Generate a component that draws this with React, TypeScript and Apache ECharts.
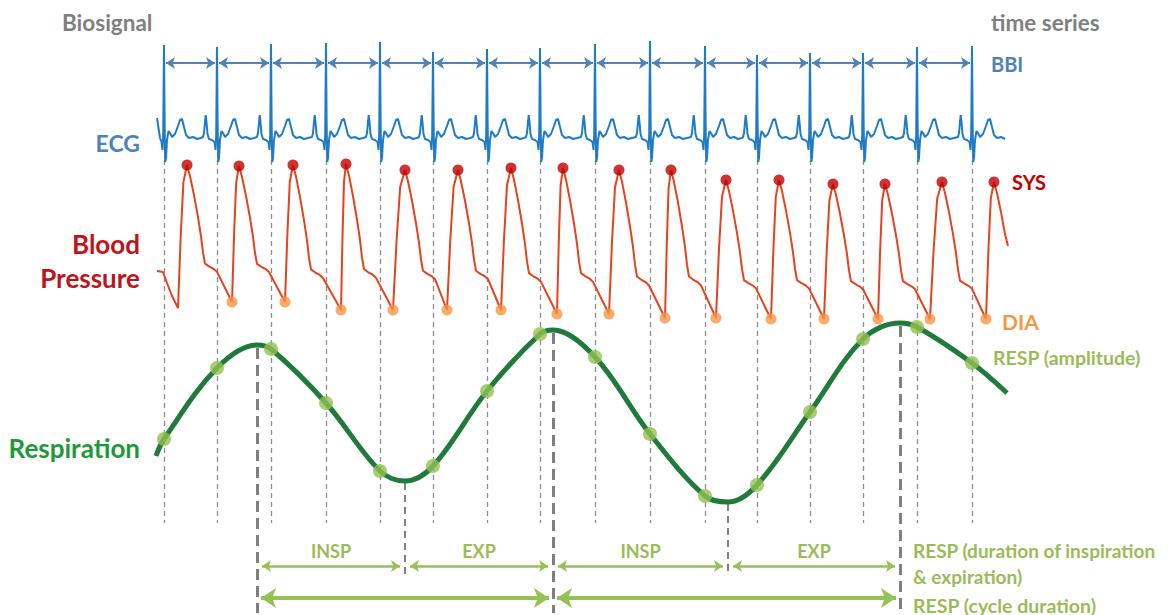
import React, { useEffect, useRef } from 'react';
import * as echarts from 'echarts';

// ---- ECG ----
// time of each R-peak (horizontal chart units)
const rPeakTimes = [164, 217, 271, 326, 380, 433, 487, 540, 595, 650, 705, 757, 810, 863, 917, 972];
// level of each R-peak (vertical chart units, axis inverted)
const rPeakLevels = [45, 47, 44, 43, 42, 52, 49, 48, 44, 41, 46, 55, 53, 53, 47, 46];
// one beat around its R-peak: [offset from R, level]; null = the R-peak itself
const ecgBeatShape: [number, number | null][] = [
  [-14, 137], [-13, 133], [-12, 122], [-11.3, 115], [-10.5, 122], [-9.5, 134], [-8, 139],
  [-5, 140], [-2.5, 142], [-1.5, 150], [-0.8, 135], [0, null], [0.6, 120], [1.2, 162],
  [2, 158], [3, 140], [4.5, 131], [6, 133], [8, 137], [11, 134], [14, 126], [16, 120],
  [18, 119], [20, 127], [22, 135], [25, 138], [29, 137], [33, 139], [37, 138],
];
const ecgLead = [[157, 118], [158.5, 128], [160, 138], [161.5, 142]];
const ecgEnd = 1008;

// ---- Blood pressure ----
const sysTimes = [187, 239, 293, 346, 405, 458, 511, 563, 619, 671, 726, 779, 833, 885, 942, 994];
const sysLevels = [165, 166, 165, 164, 170, 170, 168, 168, 170, 170, 180, 180, 184, 184, 182, 182];
const diaTimes = [232, 285, 341, 393, 447, 501, 557, 609, 665, 716, 771, 824, 878, 930, 986];
const diaLevels = [302, 302, 310, 310, 310, 310, 314, 314, 318, 318, 319, 319, 319, 319, 319];
// trace before the first marked beat (first foot is unmarked)
const bpLead = [[157, 271], [163, 272], [167, 283], [172, 296], [178, 308]];
const bpTail = [1008, 246];
// upstroke: [fraction of foot->SYS time, fraction of foot->SYS rise]
const bpRiseShape = [[0.3, 0.5], [0.6, 0.88]];
// decay: [offset after SYS, fraction of SYS->next foot drop]
const bpFallShape = [[3, 0.08], [7, 0.22], [11, 0.38], [14, 0.52], [16, 0.64], [18, 0.72], [22, 0.74], [27, 0.76], [30, 0.78]];
const bpTailFoot = 319;

// ---- Respiration ----
const respAtBeats = [439, 368, 349, 403, 471, 466, 391, 334, 357, 434, 496, 485, 412, 339, 327, 363];
const respPeakTimes = [257, 553, 900];
const respPeakLevels = [345, 330, 323];
const respTroughTimes = [405, 728];
const respTroughLevels = [481, 502];
const respEnds = [[156, 456], [1007, 393]];

function buildEcg() {
  const pts: number[][] = [...ecgLead];
  rPeakTimes.forEach((t, i) => {
    ecgBeatShape.forEach(([dx, lv]) => {
      const x = t + dx;
      if (x < 162 || x > ecgEnd) return;
      pts.push([x, lv === null ? rPeakLevels[i] : lv]);
    });
  });
  return pts;
}

function buildBp() {
  const pts: number[][] = [...bpLead];
  sysTimes.forEach((sx, i) => {
    const sy = sysLevels[i];
    const foot = i === 0 ? bpLead[bpLead.length - 1] : [diaTimes[i - 1], diaLevels[i - 1]];
    if (i > 0) pts.push(foot);
    bpRiseShape.forEach(([ft, fl]) => {
      pts.push([foot[0] + ft * (sx - foot[0]), foot[1] + fl * (sy - foot[1])]);
    });
    pts.push([sx, sy]);
    const nextFoot = i < diaTimes.length ? diaLevels[i] : bpTailFoot;
    const limit = i < diaTimes.length ? diaTimes[i] : bpTail[0];
    bpFallShape.forEach(([dx, f]) => {
      if (sx + dx >= limit - 1) return;
      pts.push([sx + dx, sy + f * (nextFoot - sy)]);
    });
  });
  pts.push(bpTail);
  return pts;
}

function buildResp() {
  const pts: number[][] = [
    ...respEnds,
    ...rPeakTimes.map((t, i) => [t, respAtBeats[i]]),
    ...respPeakTimes.map((t, i) => [t, respPeakLevels[i]]),
    ...respTroughTimes.map((t, i) => [t, respTroughLevels[i]]),
  ];
  pts.sort((a, b) => a[0] - b[0]);
  return pts;
}

const FONT = 'Lato, "Open Sans", sans-serif';

export default function App() {
  const ref = useRef<HTMLDivElement>(null);
  useEffect(() => {
    document.body.style.margin = '0';
    const chart = echarts.init(ref.current!, undefined, { renderer: 'svg' });

    // thin dashed beat lines
    const beatLines = rPeakTimes.map((t) => ({ coords: [[t, 160], [t, 523]] }));
    // heavy dashed respiration turning-point lines
    const peakLines = respPeakTimes.map((t, i) => ({ coords: [[t, respPeakLevels[i] + 3], [t, 613]] }));
    const troughLines = respTroughTimes.map((t, i) => ({ coords: [[t, respTroughLevels[i] + 2], [t, 574]] }));

    const bbiArrows = rPeakTimes.slice(0, -1).map((t, i) => ({ coords: [[t + 2, 63], [rPeakTimes[i + 1] - 2, 63]] }));

    // phases: turning points in time order
    const turns = [
      ...respPeakTimes.map((t) => ({ t, k: 'peak' })),
      ...respTroughTimes.map((t) => ({ t, k: 'trough' })),
    ].sort((a, b) => a.t - b.t);
    const phaseArrows = turns.slice(0, -1).map((p, i) => ({
      name: p.k === 'peak' ? 'INSP' : 'EXP',
      coords: [[p.t + 5, 566], [turns[i + 1].t - 5, 566]],
    }));
    const cycleArrows = respPeakTimes.slice(0, -1).map((t, i) => ({
      coords: [[t + 4, 598], [respPeakTimes[i + 1] - 4, 598]],
    }));

    const txt = (text: string, x: number, y: number, fill: string, size: number, align = 'left') => ({
      type: 'text',
      x,
      y,
      silent: true,
      style: {
        text,
        fill,
        font: `bold ${size}px ${FONT}`,
        align,
        textAlign: align,
        verticalAlign: 'middle',
        textVerticalAlign: 'middle',
      },
    });

    chart.setOption({
      animation: false,
      grid: { left: 0, right: 0, top: 0, bottom: 0 },
      xAxis: { type: 'value', min: 0, max: 1172, show: false },
      yAxis: { type: 'value', min: 0, max: 615, inverse: true, show: false },
      series: [
        {
          type: 'lines', coordinateSystem: 'cartesian2d', z: 1, silent: true,
          lineStyle: { color: '#8c8c8c', width: 1.3, type: [5, 4], opacity: 1 },
          data: beatLines,
        },
        {
          type: 'lines', coordinateSystem: 'cartesian2d', z: 1, silent: true,
          lineStyle: { color: '#7f7f7f', width: 3, type: [11, 6], opacity: 1 },
          data: peakLines,
        },
        {
          type: 'lines', coordinateSystem: 'cartesian2d', z: 1, silent: true,
          lineStyle: { color: '#7f7f7f', width: 2, type: [7, 5], opacity: 1 },
          data: troughLines,
        },
        {
          type: 'line', data: buildEcg(), symbol: 'none', z: 3,
          lineStyle: { color: '#1f7bc6', width: 2 },
        },
        {
          type: 'lines', coordinateSystem: 'cartesian2d', z: 4, silent: true,
          symbol: ['arrow', 'arrow'], symbolSize: 9,
          lineStyle: { color: '#4f81bd', width: 2, opacity: 1 },
          data: bbiArrows,
        },
        {
          type: 'line', data: buildBp(), symbol: 'none', z: 3,
          lineStyle: { color: '#e5421e', width: 2 },
        },
        {
          type: 'scatter', z: 5, symbolSize: 11,
          itemStyle: { color: '#c00000' },
          data: sysTimes.map((t, i) => [t, sysLevels[i]]),
        },
        {
          type: 'scatter', z: 5, symbolSize: 11,
          itemStyle: { color: '#f79646' },
          data: diaTimes.map((t, i) => [t, diaLevels[i]]),
        },
        {
          type: 'line', data: buildResp(), symbol: 'none', smooth: 0.35, z: 3,
          lineStyle: { color: '#1f7a3b', width: 5 },
        },
        {
          type: 'scatter', z: 6, symbolSize: 14,
          itemStyle: { color: '#92c050' },
          data: rPeakTimes.map((t, i) => [t, respAtBeats[i]]),
        },
        {
          type: 'lines', coordinateSystem: 'cartesian2d', z: 4, silent: true,
          symbol: ['arrow', 'arrow'], symbolSize: 9,
          lineStyle: { color: '#93c353', width: 2.5, opacity: 1 },
          label: {
            show: true, position: 'middle', formatter: '{b}', distance: 6,
            color: '#9bbb59', fontFamily: FONT, fontWeight: 'bold', fontSize: 18,
          },
          data: phaseArrows,
        },
        {
          type: 'lines', coordinateSystem: 'cartesian2d', z: 4, silent: true,
          symbol: ['arrow', 'arrow'], symbolSize: 15,
          lineStyle: { color: '#93c353', width: 4, opacity: 1 },
          data: cycleArrows,
        },
      ],
      graphic: [
        txt('Biosignal', 62, 22, '#7f7f7f', 22.5),
        txt('time series', 991, 22, '#7f7f7f', 22.5),
        txt('BBI', 991, 64, '#4f81bd', 20),
        txt('ECG', 140, 143, '#4f81bd', 23, 'right'),
        txt('Blood', 140, 244, '#c0141c', 26, 'right'),
        txt('Pressure', 140, 278, '#c0141c', 26, 'right'),
        txt('Respiration', 140, 448, '#1f9a3a', 26, 'right'),
        txt('SYS', 1012, 182, '#c00000', 20),
        txt('DIA', 1002, 321, '#f79646', 21),
        txt('RESP (amplitude)', 993, 357, '#9bbb59', 19.5),
        txt('RESP (duration of inspiration', 913, 550, '#9bbb59', 19),
        txt('& expiration)', 913, 576, '#9bbb59', 19),
        txt('RESP (cycle duration)', 913, 605, '#9bbb59', 19.5),
      ],
    });
    return () => chart.dispose();
  }, []);
  return <div ref={ref} style={{ width: 1172, height: 615 }} />;
}
